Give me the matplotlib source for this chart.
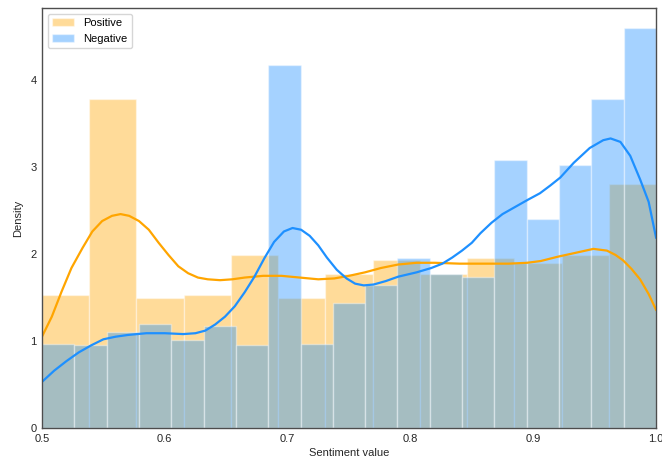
import numpy as np
import matplotlib
matplotlib.use("Agg")
import matplotlib.pyplot as plt

plt.rcParams['font.family'] = ['Liberation Sans', 'DejaVu Sans']
plt.rcParams['font.size'] = 8

# histogram densities (Positive: 13 bins, Negative: 19 bins over 0.5..1.0)
pos_density = [1.53, 3.78, 1.49, 1.53, 1.99, 1.50, 1.77, 1.935, 1.77, 1.96, 1.90, 1.99, 2.81]
neg_density = [0.97, 0.96, 1.10, 1.20, 1.01, 1.17, 0.95, 4.18, 0.97, 1.44,
               1.64, 1.96, 1.77, 1.74, 3.08, 2.40, 3.03, 3.78, 4.60]

# kde curves
pos_kde_x = [0.500, 0.508, 0.516, 0.524, 0.533, 0.541, 0.549, 0.557, 0.564, 0.571,
             0.579, 0.587, 0.595, 0.603, 0.611, 0.619, 0.627, 0.635, 0.645, 0.655,
             0.665, 0.680, 0.695, 0.710, 0.725, 0.738, 0.750, 0.763, 0.776, 0.790,
             0.805, 0.820, 0.840, 0.860, 0.880, 0.895, 0.906, 0.920, 0.933, 0.949,
             0.960, 0.967, 0.973, 0.980, 0.987, 0.994, 1.000]
pos_kde = [1.05, 1.28, 1.57, 1.84, 2.07, 2.26, 2.38, 2.44, 2.46, 2.44,
           2.38, 2.28, 2.13, 1.99, 1.86, 1.78, 1.73, 1.71, 1.70, 1.71,
           1.73, 1.75, 1.75, 1.73, 1.71, 1.72, 1.75, 1.79, 1.84, 1.88,
           1.90, 1.90, 1.89, 1.89, 1.89, 1.90, 1.92, 1.97, 2.01, 2.06,
           2.04, 1.99, 1.93, 1.83, 1.71, 1.54, 1.36]

neg_kde_x = [0.500, 0.510, 0.520, 0.530, 0.540, 0.550, 0.560, 0.570, 0.585, 0.600,
             0.615, 0.625, 0.633, 0.641, 0.649, 0.657, 0.665, 0.673, 0.681, 0.689,
             0.697, 0.704, 0.711, 0.718, 0.725, 0.732, 0.740, 0.748, 0.755, 0.762,
             0.770, 0.780, 0.790, 0.805, 0.817, 0.826, 0.834, 0.842, 0.850, 0.857,
             0.866, 0.875, 0.885, 0.895, 0.9055, 0.914, 0.922, 0.933, 0.946, 0.957,
             0.963, 0.971, 0.979, 0.987, 0.994, 1.000]
neg_kde = [0.53, 0.66, 0.77, 0.87, 0.95, 1.02, 1.05, 1.07, 1.09, 1.09,
           1.08, 1.09, 1.12, 1.19, 1.28, 1.40, 1.56, 1.74, 1.95, 2.14,
           2.26, 2.30, 2.28, 2.21, 2.10, 1.96, 1.82, 1.72, 1.66, 1.64,
           1.65, 1.69, 1.74, 1.79, 1.84, 1.89, 1.96, 2.04, 2.13, 2.24,
           2.36, 2.46, 2.54, 2.62, 2.70, 2.79, 2.88, 3.05, 3.22, 3.31,
           3.33, 3.29, 3.13, 2.86, 2.60, 2.19]

pos_edges = np.linspace(0.5, 1.0, len(pos_density) + 1)
neg_edges = np.linspace(0.5, 1.0, len(neg_density) + 1)

fig = plt.figure(figsize=(6.62, 4.61), dpi=100)
ax = fig.add_axes([0.0634, 0.0716, 0.9276, 0.911])

ax.bar(pos_edges[:-1], pos_density, width=np.diff(pos_edges), align='edge',
       color='orange', alpha=0.4, edgecolor='white', linewidth=1, label='Positive')
ax.plot(pos_kde_x, pos_kde, color='orange', lw=1.6)
ax.bar(neg_edges[:-1], neg_density, width=np.diff(neg_edges), align='edge',
       color='dodgerblue', alpha=0.4, edgecolor='white', linewidth=1, label='Negative')
ax.plot(neg_kde_x, neg_kde, color='dodgerblue', lw=1.6)

ax.set_xlim(0.5, 1.0)
ax.set_ylim(0, 4.83)
ax.set_xticks([0.5, 0.6, 0.7, 0.8, 0.9, 1.0])
ax.set_yticks([0, 1, 2, 3, 4])
ax.tick_params(length=0, pad=4, colors='.15')
for s in ax.spines.values():
    s.set_color('.3')
    s.set_linewidth(1)

ax.set_xlabel('Sentiment value', color='.15', labelpad=3)
ax.set_ylabel('Density', color='.15', labelpad=5)
leg = ax.legend(loc='upper left', frameon=True, edgecolor='.8', fancybox=True)

plt.savefig('out.png', dpi=100)
